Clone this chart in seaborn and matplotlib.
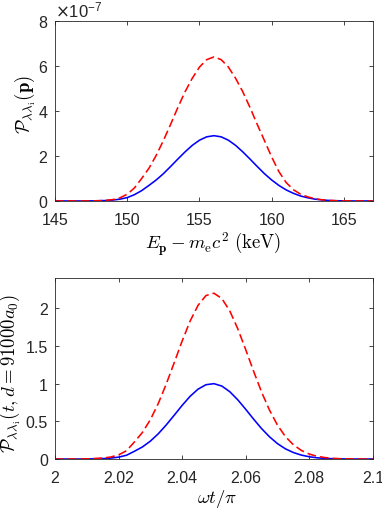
import numpy as np
import matplotlib
matplotlib.use("Agg")
import matplotlib.pyplot as plt
from matplotlib.ticker import ScalarFormatter
import seaborn as sns

# energy grid (keV) and probabilities (in units of 1e-7)
energy = np.arange(145, 167.01, 0.5)
blue_top = [0, 0, 0, 0, 0.001, 0.004, 0.01, 0.02, 0.04, 0.08,
            0.15, 0.28, 0.46, 0.69, 0.93, 1.21, 1.53, 1.86, 2.18, 2.47,
            2.70, 2.85, 2.90, 2.85, 2.70, 2.47, 2.18, 1.86, 1.53, 1.21,
            0.93, 0.69, 0.49, 0.34, 0.22, 0.14, 0.08, 0.045, 0.02, 0.01,
            0.004, 0.001, 0, 0, 0]
red_top = [0, 0, 0, 0, 0, 0.004, 0.01, 0.025, 0.06, 0.14,
           0.30, 0.58, 1.00, 1.45, 2.02, 2.68, 3.40, 4.15, 4.85, 5.45,
           5.95, 6.28, 6.40, 6.28, 5.95, 5.45, 4.85, 4.15, 3.40, 2.68,
           1.95, 1.30, 0.82, 0.50, 0.30, 0.18, 0.10, 0.05, 0.025, 0.01,
           0.005, 0, 0, 0, 0]

# time grid (omega t / pi) and probabilities
wt = np.arange(2.0, 2.10001, 0.0025)
blue_bot = [0, 0, 0, 0, 0.001, 0.003, 0.006, 0.012, 0.025, 0.05,
            0.103, 0.160, 0.237, 0.335, 0.452, 0.580, 0.711, 0.831, 0.926, 0.985,
            0.999, 0.967, 0.892, 0.785, 0.659, 0.528, 0.403, 0.294, 0.204, 0.135,
            0.086, 0.052, 0.030, 0.016, 0.0085, 0.004, 0.002, 0.001, 0, 0,
            0]
red_bot = [0, 0, 0, 0, 0.002, 0.007, 0.013, 0.026, 0.055, 0.11,
           0.227, 0.352, 0.521, 0.737, 0.994, 1.276, 1.564, 1.828, 2.037, 2.167,
           2.198, 2.127, 1.962, 1.727, 1.450, 1.162, 0.887, 0.647, 0.449, 0.297,
           0.189, 0.114, 0.066, 0.035, 0.019, 0.009, 0.004, 0.002, 0, 0,
           0]

sns.set_style("ticks")
plt.rcParams["font.family"] = ["Liberation Sans", "DejaVu Sans"]
plt.rcParams["mathtext.fontset"] = "cm"
grey = "#262626"

fig = plt.figure(figsize=(3.82, 5.10), dpi=100)
ax1 = fig.add_axes([0.144, 0.604, 0.832, 0.353])
ax2 = fig.add_axes([0.144, 0.098, 0.832, 0.355])

dash = (0, (5.5, 2.5))
sns.lineplot(x=energy, y=np.array(blue_top) * 1e-7, ax=ax1, color="#0000FF", linewidth=1.15)
sns.lineplot(x=energy, y=np.array(red_top) * 1e-7, ax=ax1, color="#FF0000", linewidth=1.15, linestyle=dash)
sns.lineplot(x=wt, y=blue_bot, ax=ax2, color="#0000FF", linewidth=1.15)
sns.lineplot(x=wt, y=red_bot, ax=ax2, color="#FF0000", linewidth=1.15, linestyle=dash)

ax1.set_xlim(145, 167)
ax1.set_ylim(0, 8e-7)
ax1.set_xticks([145, 150, 155, 160, 165])
ax1.set_yticks([0, 2e-7, 4e-7, 6e-7, 8e-7])
fmt = ScalarFormatter(useMathText=True)
fmt.set_powerlimits((0, 0))
ax1.yaxis.set_major_formatter(fmt)
off = ax1.yaxis.get_offset_text()
off.set_fontsize(12)
off.set_color(grey)
off.set_math_fontfamily("dejavusans")

ax2.set_xlim(2, 2.1)
ax2.set_ylim(0, 2.4)
ax2.set_xticks([2, 2.02, 2.04, 2.06, 2.08, 2.1])
ax2.set_xticklabels(["2", "2.02", "2.04", "2.06", "2.08", "2.1"])
ax2.set_yticks([0, 0.5, 1, 1.5, 2])
ax2.set_yticklabels(["0", "0.5", "1", "1.5", "2"])

ax1.set_xlabel(r"$E_{\mathbf{p}}-m_{\mathrm{e}}c^2\ (\mathrm{keV})$", fontsize=13.5)
ax1.set_ylabel(r"$\mathcal{P}_{\lambda\lambda_{\mathrm{i}}}(\mathbf{p})$", fontsize=13.5)
ax2.set_xlabel(r"$\omega t/\pi$", fontsize=13.5)
ax2.set_ylabel(r"$\mathcal{P}_{\lambda\lambda_{\mathrm{i}}}(t,d=91000a_0)$", fontsize=13.5)
ax1.xaxis.set_label_coords(0.498, -0.16)
ax2.xaxis.set_label_coords(0.509, -0.155)
ax1.yaxis.set_label_coords(-0.058, 0.54)
ax2.yaxis.set_label_coords(-0.103, 0.48)

for ax in (ax1, ax2):
    ax.tick_params(direction="in", length=3, width=0.6, colors=grey,
                   labelsize=11.5, top=True, right=True)
    ax.tick_params(axis="x", pad=8)
    ax.tick_params(axis="y", pad=5)
    for s in ax.spines.values():
        s.set_visible(True)
        s.set_color(grey)
        s.set_linewidth(0.6)
    ax.xaxis.label.set_color("black")
    ax.yaxis.label.set_color("black")

fig.savefig("out.png", dpi=100)
